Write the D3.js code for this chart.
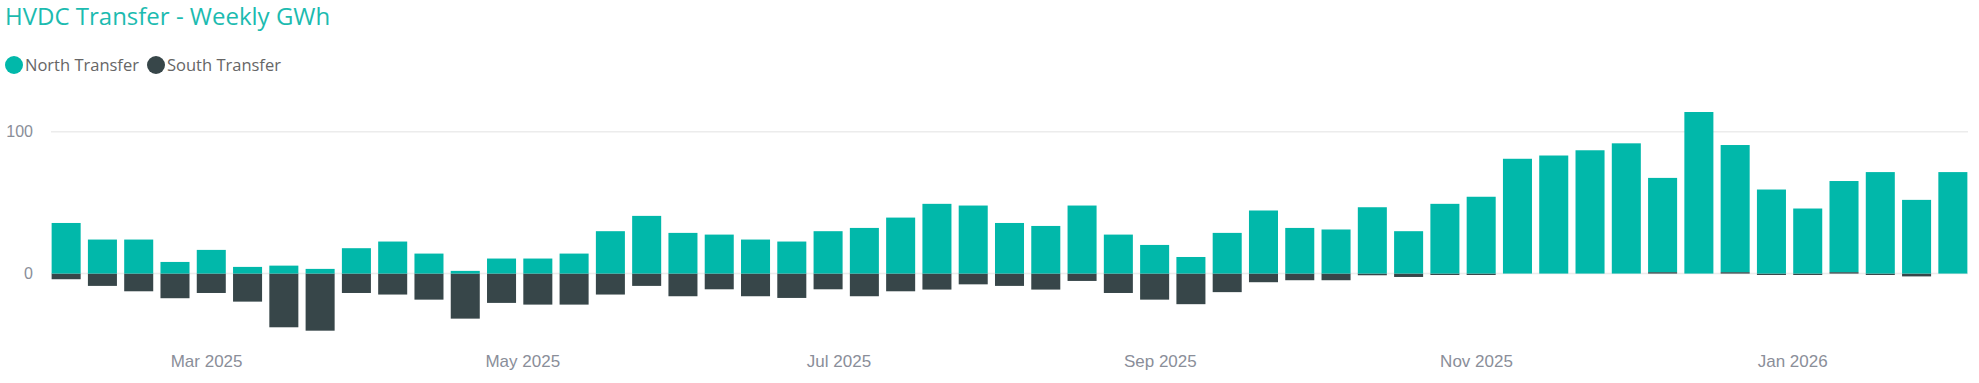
<!DOCTYPE html>
<html>
<head>
<meta charset="utf-8">
<script src="https://cdn.jsdelivr.net/npm/d3@7"></script>
<style>
	body { margin: 0; background: #fff; }
	svg { display: block; font-family: "Segoe UI", "Open Sans", sans-serif; }
</style>
</head>
<body>
<div id="container"></div>
<script>
// weekly values (GWh), week starting Sunday
const firstWeek = "2025-02-02";
const weekCount = 53;
const northTransfer = [
	35.7, 24.0, 24.0, 8.2, 16.7, 4.7, 5.6, 3.3, 17.9, 22.6,
	14.1, 1.9, 10.6, 10.6, 14.1, 29.9, 40.7, 28.7, 27.5, 24.0,
	22.6, 29.9, 32.2, 39.5, 49.2, 48.0, 35.7, 33.6, 48.0, 27.5,
	20.2, 11.7, 28.7, 44.5, 32.2, 31.1, 46.8, 29.9, 49.2, 54.2,
	81.0, 83.3, 87.0, 91.9, 66.5, 114.0, 89.7, 59.3, 45.9, 64.3,
	71.6, 52.0, 71.6
];
const southTransfer = [
	-4.0, -8.7, -12.5, -17.4, -13.7, -19.8, -37.9, -40.3, -13.7, -14.8,
	-18.4, -31.8, -20.7, -21.9, -21.9, -14.8, -8.7, -16.0, -11.1, -16.0,
	-17.2, -11.1, -16.0, -12.5, -11.3, -7.6, -8.7, -11.3, -5.2, -13.7,
	-18.4, -21.6, -13.1, -6.1, -4.7, -4.7, -1.2, -2.4, -1.0, -1.0,
	0, 0, 0, 0, 1.0, 0, 1.0, -1.0, -1.0, 1.0,
	-1.0, -2.0, 0
];
const seriesNames = ["North Transfer", "South Transfer"];
const seriesColors = ["#01B8AA", "#374649"];
const yTicks = [0, 100];

window.addEventListener("load", () => drawChart());

function drawChart() {
	const width = 1979;
	const height = 383;
	const margin = { left: 48, right: 8 };

	const start = d3.utcParse("%Y-%m-%d")(firstWeek);
	const weeks = d3.range(weekCount).map((i) => d3.utcWeek.offset(start, i));
	const rows = weeks.map((date, i) => ({
		date: date,
		north: northTransfer[i],
		south: southTransfer[i],
	}));

	const svg = d3
		.select("#container")
		.append("svg")
		.attr("width", width)
		.attr("height", height);

	// time axis, half a week of room on each side
	const xScale = d3
		.scaleUtc()
		.domain([
			d3.utcHour.offset(weeks[0], -84),
			d3.utcHour.offset(weeks[weeks.length - 1], 84),
		])
		.range([margin.left, width - margin.right]);

	const yScale = d3.scaleLinear().domain([-60, 120]).range([358.6, 103.5]);

	const barWidth = (xScale(weeks[1]) - xScale(weeks[0])) * 0.8;

	// title and legend
	svg.append("text")
		.attr("x", 5)
		.attr("y", 25)
		.attr("fill", "#1CBBB0")
		.style("font-size", "24px")
		.text("HVDC Transfer - Weekly GWh");

	const legendX = [14, 156];
	const legend = svg
		.append("g")
		.selectAll("g")
		.data(seriesNames)
		.enter()
		.append("g")
		.attr("transform", (d, i) => `translate(${legendX[i]}, 65)`);
	legend.append("circle").attr("r", 9).attr("fill", (d, i) => seriesColors[i]);
	legend
		.append("text")
		.attr("x", 11)
		.attr("y", 6)
		.attr("fill", "#666")
		.style("font-size", "16.5px")
		.text((d) => d);

	// gridlines
	svg.append("g")
		.selectAll("line")
		.data(yTicks)
		.enter()
		.append("line")
		.attr("x1", 51)
		.attr("x2", 1968)
		.attr("y1", (d) => yScale(d))
		.attr("y2", (d) => yScale(d))
		.attr("stroke", "#ececec")
		.attr("stroke-width", 1.5);

	const yAxis = d3.axisLeft(yScale).tickValues(yTicks).tickSize(0).tickPadding(0);
	const yG = svg.append("g").attr("transform", "translate(33, 0)").call(yAxis);
	yG.select(".domain").remove();
	yG.selectAll("text")
		.attr("fill", "#8a8e99")
		.style("font-size", "16px")
		.style("font-family", "inherit");

	const xAxis = d3
		.axisBottom(xScale)
		.ticks(d3.utcMonth.every(2))
		.tickFormat(d3.utcFormat("%b %Y"))
		.tickSize(0)
		.tickPadding(0);
	const xG = svg.append("g").attr("transform", "translate(0, 355)").call(xAxis);
	xG.select(".domain").remove();
	xG.selectAll("text")
		.attr("fill", "#8a8e99")
		.style("font-size", "17px")
		.style("font-family", "inherit");

	// stacked bars: south first so small positive south sits at the base
	const stack = d3.stack().keys(["south", "north"]).offset(d3.stackOffsetDiverging);
	const layers = stack(rows);

	svg.append("g")
		.selectAll("g")
		.data(layers)
		.enter()
		.append("g")
		.attr("fill", (d) => (d.key === "north" ? seriesColors[0] : seriesColors[1]))
		.selectAll("rect")
		.data((d) => d)
		.enter()
		.append("rect")
		.attr("x", (d) => xScale(d.data.date) - barWidth / 2)
		.attr("width", barWidth)
		.attr("y", (d) => yScale(Math.max(d[0], d[1])))
		.attr("height", (d) => Math.abs(yScale(d[0]) - yScale(d[1])));
}
</script>
</body>
</html>
